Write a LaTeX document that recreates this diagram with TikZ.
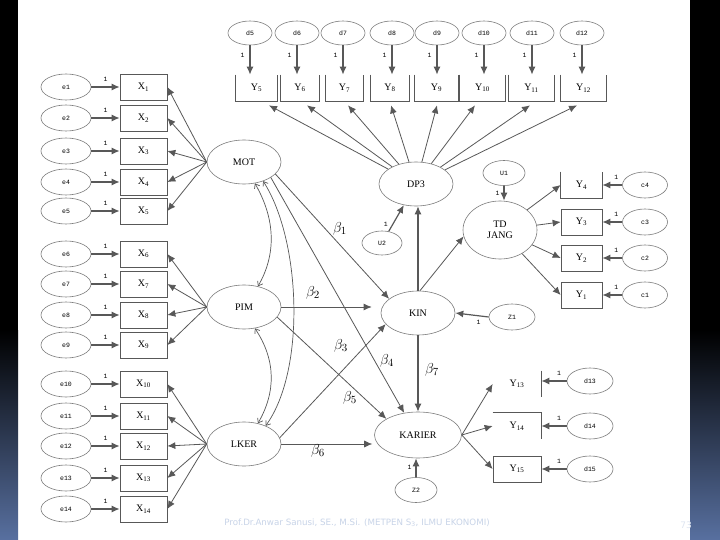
\documentclass[tikz,border=0pt]{standalone}
\usepackage{fontspec}
\setmainfont{Liberation Serif}
\newfontfamily\footfont{DejaVu Sans}
\newfontfamily\monof{Liberation Mono}
\usetikzlibrary{shapes.geometric,arrows.meta,calc}
\definecolor{lc}{RGB}{88,88,88}
\definecolor{ec}{RGB}{125,125,125}
\definecolor{barbot}{RGB}{88,112,160}
\definecolor{foot}{RGB}{200,212,232}
\begin{document}
\begin{tikzpicture}[x=1pt,y=-1pt,
 lat/.style={ellipse,draw=ec,line width=0.6pt,minimum width=74pt,minimum height=44pt,inner sep=0pt,font=\fontsize{10}{11}\selectfont},
 err/.style={ellipse,draw=ec,line width=0.6pt,minimum width=50pt,minimum height=26pt,inner sep=0pt,font=\monof\fontsize{6.5}{7}\selectfont},
 derr/.style={err,minimum width=44pt,minimum height=24pt},
 obs/.style={rectangle,draw=lc,line width=0.7pt,minimum width=47pt,minimum height=26pt,inner sep=0pt,font=\fontsize{10}{11}\selectfont},
 obsn/.style={obs,draw=none},
 arr/.style={draw=lc,line width=1.2pt,-{Latex[length=8pt,width=7pt]}},
 thinarr/.style={draw=lc,line width=0.8pt,-{Latex[length=8pt,width=7pt]}},
 cov/.style={draw=lc,line width=0.7pt,{Straight Barb[length=4pt,width=6pt]}-{Straight Barb[length=4pt,width=6pt]}},
 one/.style={font=\monof\fontsize{6.5}{7}\selectfont,inner sep=1pt},
 beta/.style={font=\fontsize{15}{17}\selectfont,inner sep=0pt}
]
\useasboundingbox (0,0) rectangle (720,540);
\fill[white] (0,0) rectangle (720,540);
% slide side bars
\fill[black] (0,0) rectangle (18,540);
\shade[top color=black,bottom color=barbot] (0,330) rectangle (18,540);
\fill[black] (690,0) rectangle (720,540);
\shade[top color=black,bottom color=barbot] (690,330) rectangle (720,540);

% latent variables
\node[lat] (MOT) at (244,162) {MOT};
\node[lat] (PIM) at (244,307) {PIM};
\node[lat] (LKER) at (244,444) {LKER};
\node[lat] (DP3) at (416,184) {DP3};
\node[lat] (KIN) at (418,313) {KIN};
\node[lat,minimum width=74pt,minimum height=58pt,align=center] (TDJ) at (500,230) {TD\\JANG};
\node[lat,minimum width=87pt,minimum height=46pt] (KARIER) at (418,435) {KARIER};

% left indicators
\foreach \i/\y in {1/87,2/118,3/151,4/182,5/211,6/254,7/284,8/315,9/345,10/384,11/416,12/446,13/478,14/509}{
  \node[obs] (X\i) at (143.5,\y) {X\textsubscript{\i}};
  \node[err] (e\i) at (66,\y) {e\i};
  \draw[arr] (e\i) -- (X\i) node[one,midway,above=4pt] {1};
}
\foreach \i in {1,...,5} \draw[thinarr] (MOT.west) -- (X\i.east);
\foreach \i in {6,...,9} \draw[thinarr] (PIM.west) -- (X\i.east);
\foreach \i in {10,...,14} \draw[thinarr] (LKER.west) -- (X\i.east);

% top indicators of DP3
\foreach \i/\dx/\bx/\bw/\tx in {5/250/256.5/41/12.5,6/297/300/38/7,7/343/344.5/37/3.5,8/392/390/38/1,9/437/436.5/43/0.5,10/484/482.5/45/-7.5,11/532/531.5/45/-1.5,12/582/583.5/45/-6.5}{
  \node[obsn,minimum width=\bw pt] (Y\i) at (\bx,88) {Y\textsubscript{\i}};
  \draw[lc,line width=0.7pt] (Y\i.north west) -- (Y\i.south west) -- (Y\i.south east) -- (Y\i.north east);
  \node[derr] (d\i) at (\dx,33) {d\i};
  \draw[arr] (d\i.south) -- (d\i.south |- Y\i.north) node[one,pos=0.35,left=4pt] {1};
  \draw[thinarr] (DP3) -- ($(Y\i.south)+(\tx,4)$);
}

% TD JANG indicators
\node[obsn,minimum width=41pt] (Y4) at (581.5,185) {Y\textsubscript{4}};
\draw[lc,line width=0.7pt] (Y4.north west) -- (Y4.south west) -- (Y4.south east) -- (Y4.north east);
\node[obs,minimum width=41pt] (Y3) at (581.5,222) {Y\textsubscript{3}};
\node[obs,minimum width=41pt] (Y2) at (581.5,258) {Y\textsubscript{2}};
\node[obs,minimum width=41pt] (Y1) at (581.5,295) {Y\textsubscript{1}};
\foreach \i/\y in {4/185,3/222,2/258,1/295}{
  \node[err,minimum width=45pt] (c\i) at (645,\y) {c\i};
  \draw[arr] (c\i) -- (Y\i) node[one,pos=0.3,above=4pt] {1};
  \draw[thinarr] (TDJ) -- (Y\i.west);
}

% KARIER indicators
\node[obsn,minimum width=48pt] (Y13) at (517,384) {Y\textsubscript{13}};
\draw[lc,line width=0.7pt] (Y13.north east) -- (Y13.south east);
\node[obsn,minimum width=48pt] (Y14) at (517,426) {Y\textsubscript{14}};
\draw[lc,line width=0.7pt] (Y14.north west) -- (Y14.north east) -- (Y14.south east);
\node[obs,minimum width=48pt] (Y15) at (517,469) {Y\textsubscript{15}};
\foreach \i/\y in {13/381,14/426,15/469}{
  \node[err,minimum width=46pt] (d\i) at (590,\y) {d\i};
  \draw[arr] (d\i.west) -- (d\i.west -| Y\i.east) node[one,pos=0.3,above=4pt] {1};
  \draw[thinarr] (KARIER.east) -- (Y\i.west);
}

% disturbances
\node[err,minimum width=42pt,minimum height=25pt] (U1) at (504,173) {U1};
\draw[arr] (U1.south) -- (U1.south |- TDJ.north) node[one,midway,left=3pt] {1};
\node[err,minimum width=40pt,minimum height=24pt] (U2) at (382,243) {U2};
\draw[arr] (U2) -- (DP3) node[one,pos=0.25,left=3pt] {1};
\node[err,minimum width=46pt] (Z1) at (512,317) {Z1};
\draw[arr] (Z1.west) -- (KIN.east) node[one,pos=0.3,below=3pt] {1};
\node[err,minimum width=42pt,minimum height=25pt] (Z2) at (416,490) {Z2};
\draw[arr] (Z2.north) -- (Z2.north |- KARIER.south) node[one,midway,left=3pt] {1};

% structural paths
\draw[arr] (KIN.north) -- (KIN.north |- DP3.south);
\draw[thinarr] (KIN.85) -- (TDJ.190);
\draw[arr] (KIN.south) -- (KIN.south |- KARIER.north);
\draw[thinarr] (MOT.-21) -- (KIN.154);
\draw[thinarr] (MOT.-30) -- (KARIER.122);
\draw[thinarr,shorten >=9pt] (PIM.east) -- (PIM.east -| KIN.west);
\draw[thinarr] (PIM.-17) -- (KARIER.153);
\draw[thinarr] (LKER.10) -- (KIN.199);
\draw[thinarr,line width=0.6pt,shorten >=2pt] (LKER.east) -- (LKER.east -| KARIER.west);

% covariances
\draw[cov] (MOT.-63) .. controls (276,220) and (276,255) .. (PIM.56);
\draw[cov] (PIM.-63) .. controls (276,360) and (276,392) .. (LKER.56);
\draw[cov] (MOT.-45) .. controls (301,240) and (306,370) .. (LKER.40);

% path coefficients
\node[beta] (b1) at (340,229) {$\beta_1$};
\node[beta] (b2) at (313,293) {$\beta_2$};
\node[beta] (b3) at (341,346) {$\beta_3$};
\node[beta] (b4) at (387,361) {$\beta_4$};
\node[beta] (b5) at (350,398) {$\beta_5$};
\node[beta] (b6) at (318,451) {$\beta_6$};
\node[beta] (b7) at (432,370) {$\beta_7$};

% footer
\node[font=\footfont\fontsize{8.7}{10}\selectfont,text=foot] (foot) at (357,523) {Prof.Dr.Anwar Sanusi, SE., M.Si. (METPEN S\textsubscript{3}, ILMU EKONOMI)};
\node[font=\footfont\fontsize{9}{10}\selectfont,text=foot!60!white] (pg) at (686,525) {73};
\end{tikzpicture}
\end{document}
